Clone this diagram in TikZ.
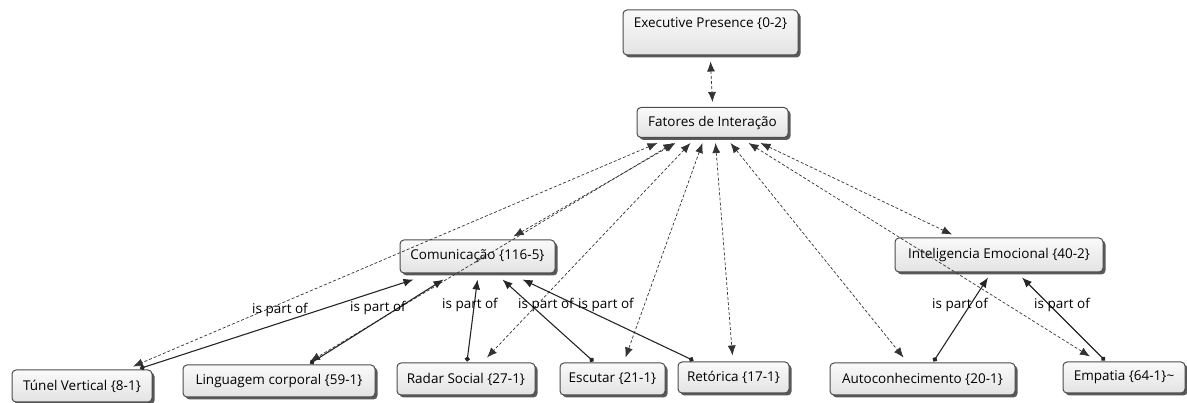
\documentclass[tikz,border=0pt]{standalone}
\usepackage{fontspec}
\setmainfont{Open Sans}
\usepackage{tikz}
\usetikzlibrary{arrows.meta, shadows}

\tikzset{
	code/.style={draw=black!70, line width=1pt, rounded corners=4pt,
		top color=black!2, bottom color=black!11,
		drop shadow={shadow xshift=2.5pt, shadow yshift=-2.5pt, fill=black!65, opacity=1},
		inner sep=3pt, text=black, font=\fontsize{13.5}{15}\selectfont},
	link/.style={<->, dash pattern=on 3pt off 2pt, black!80, line width=0.7pt},
	partof/.style={{Circle[length=5pt]}->, black!85, line width=1.1pt},
	rel/.style={inner sep=0pt, text=black, font=\fontsize{13.5}{15}\selectfont}
}

\begin{document}
\begin{tikzpicture}[x=1pt, y=-1pt,
				>={Latex[length=10pt,width=8pt]},
				thick]
				\useasboundingbox (0,0) rectangle (1187,403);
				\node at (710.5,32.5) (exec) [code, minimum width=175, text height=15pt, text depth=24pt] {Executive Presence \{0-2\}};
				\node at (712.5,122.5) (fat) [code, minimum width=151, minimum height=30] {Fatores de Interação};
				\node at (477.5,256.5) (com) [code, minimum width=155, minimum height=33] {Comunicação \{116-5\}};
				\node at (999,255) (ie) [code, minimum width=208, minimum height=34] {Inteligencia Emocional \{40-2\}};
				\node at (82,386) (tunel) [code, minimum width=140, minimum height=32] {Túnel Vertical \{8-1\}};
				\node at (279,381) (ling) [code, minimum width=192, minimum height=32] {Linguagem corporal \{59-1\}};
				\node at (466,379) (radar) [code, minimum width=138, minimum height=32] {Radar Social \{27-1\}};
				\node at (612.5,379) (esc) [code, minimum width=105, minimum height=32] {Escutar \{21-1\}};
				\node at (733.5,377.5) (ret) [code, minimum width=111, minimum height=31] {Retórica \{17-1\}};
				\node at (922.5,379) (auto) [code, minimum width=185, minimum height=32] {Autoconhecimento \{20-1\}};
				\node at (1124,377.5) (emp) [code, minimum width=122, minimum height=31] {Empatia \{64-1\}\textasciitilde};
				\draw[link] ([yshift=-6pt]exec.south) -- ([yshift=5pt]fat.north);
				\draw[link] ([xshift=-55pt,yshift=-5pt]fat.south) -- ([xshift=51pt,yshift=3pt]tunel.north);
				\draw[link] ([xshift=-39pt,yshift=-5pt]fat.south) -- ([xshift=31pt,yshift=3pt]ling.north);
				\draw[link] ([xshift=-37pt,yshift=-5pt]fat.south) -- ([xshift=36pt,yshift=3pt]com.north);
				\draw[link] ([xshift=-22pt,yshift=-5pt]fat.south) -- ([xshift=21pt,yshift=5pt]radar.north);
				\draw[link] ([xshift=-10pt,yshift=-5pt]fat.south) -- ([xshift=13pt,yshift=5pt]esc.north);
				\draw[link] ([xshift=3pt,yshift=-5pt]fat.south) -- ([xshift=-1pt,yshift=6pt]ret.north);
				\draw[link] ([xshift=18pt,yshift=-5pt]fat.south) -- ([xshift=-19pt,yshift=5pt]auto.north);
				\draw[link] ([xshift=36pt,yshift=-5pt]fat.south) -- ([xshift=-34pt,yshift=5pt]emp.north);
				\draw[link] ([xshift=48pt,yshift=-5pt]fat.south) -- ([xshift=-47pt,yshift=3pt]ie.north);
				\draw[partof] ([xshift=58pt,yshift=1pt]tunel.north) -- ([xshift=-64pt,yshift=-6pt]com.south);
				\draw[partof] ([xshift=31pt,yshift=1pt]ling.north) -- ([xshift=-34pt,yshift=-6pt]com.south);
				\draw[partof] ([xshift=1pt,yshift=1pt]radar.north) -- ([xshift=0pt,yshift=-6pt]com.south);
				\draw[partof] ([xshift=-19pt,yshift=1pt]esc.north) -- ([xshift=25pt,yshift=-6pt]com.south);
				\draw[partof] ([xshift=-40pt,yshift=1pt]ret.north) -- ([xshift=45pt,yshift=-6pt]com.south);
				\draw[partof] ([xshift=11pt,yshift=1pt]auto.north) -- ([xshift=-11pt,yshift=-5pt]ie.south);
				\draw[partof] ([xshift=-19pt,yshift=1pt]emp.north) -- ([xshift=23pt,yshift=-5pt]ie.south);
				\node at (280,310) (rtunel) [rel] {is part of};
				\node at (378,308) (rling) [rel] {is part of};
				\node at (470,305) (rradar) [rel] {is part of};
				\node at (546,305) (resc) [rel] {is part of};
				\node at (606,305) (rret) [rel] {is part of};
				\node at (960,305) (rauto) [rel] {is part of};
				\node at (1062,305) (remp) [rel] {is part of};
			\end{tikzpicture}
\end{document}
